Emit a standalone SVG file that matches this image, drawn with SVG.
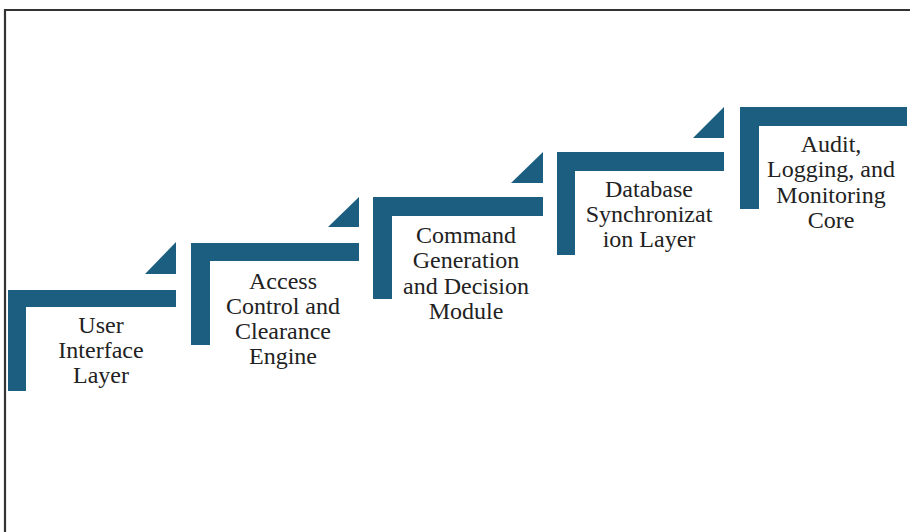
<svg xmlns="http://www.w3.org/2000/svg" width="910" height="532" viewBox="0 0 910 532">
<style>
.step{fill:#1b5e80}
.lbl{font-family:"Liberation Serif","Times New Roman",serif;font-size:24px;fill:#222;text-anchor:middle}
</style>
<rect x="0" y="0" width="910" height="532" fill="#fff"/>
<path d="M5 532 V10 H910" fill="none" stroke="#333" stroke-width="2.2"/>
<g id="step1">
<path class="step" d="M8 290 H176 V307 H26 V391 H8 Z"/>
<path class="step" d="M145 274 L176 242 V274 Z"/>
<text class="lbl"><tspan x="101" y="333">User</tspan><tspan x="101" y="358">Interface</tspan><tspan x="101" y="383">Layer</tspan></text>
</g>
<g id="step2">
<path class="step" d="M191 243 H359 V261 H210 V345 H191 Z"/>
<path class="step" d="M328 227 L359 197 V227 Z"/>
<text class="lbl"><tspan x="283" y="289">Access</tspan><tspan x="283" y="314">Control and</tspan><tspan x="283" y="339">Clearance</tspan><tspan x="283" y="364">Engine</tspan></text>
</g>
<g id="step3">
<path class="step" d="M373 197 H543 V216 H392 V299 H373 Z"/>
<path class="step" d="M511 183 L543 152 V183 Z"/>
<text class="lbl"><tspan x="466" y="243">Command</tspan><tspan x="466" y="268">Generation</tspan><tspan x="466" y="294">and Decision</tspan><tspan x="466" y="319">Module</tspan></text>
</g>
<g id="step4">
<path class="step" d="M557 152 H724 V171 H575 V255 H557 Z"/>
<path class="step" d="M693 138 L724 107 V138 Z"/>
<text class="lbl"><tspan x="649" y="197">Database</tspan><tspan x="649" y="222">Synchronizat</tspan><tspan x="649" y="247">ion Layer</tspan></text>
</g>
<g id="step5">
<path class="step" d="M740 107 H907 V126 H759 V209 H740 Z"/>
<text class="lbl"><tspan x="831" y="152">Audit,</tspan><tspan x="831" y="177">Logging, and</tspan><tspan x="831" y="203">Monitoring</tspan><tspan x="831" y="228">Core</tspan></text>
</g>
<g id="connectors"></g>
</svg>
